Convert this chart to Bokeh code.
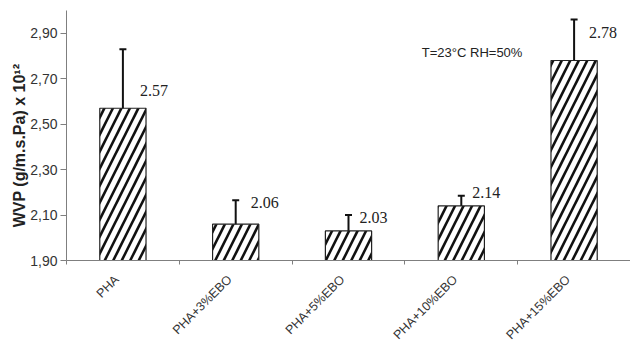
import math
from bokeh.plotting import figure
from bokeh.models import ColumnDataSource, FixedTicker, Range1d, Whisker, TeeHead
from bokeh.embed import file_html
from bokeh.resources import INLINE
from bokeh.core.properties import value

# ---- data ----
categories = ["PHA", "PHA+3%EBO", "PHA+5%EBO", "PHA+10%EBO", "PHA+15%EBO"]
wvp = [2.57, 2.06, 2.03, 2.14, 2.78]
wvp_err = [0.26, 0.105, 0.07, 0.045, 0.18]
value_labels = ["2.57", "2.06", "2.03", "2.14", "2.78"]
y_ticks = [1.90, 2.10, 2.30, 2.50, 2.70, 2.90]
y_tick_labels = ["1,90", "2,10", "2,30", "2,50", "2,70", "2,90"]
y_title = "WVP (g/m.s.Pa) x 10¹²"
note = "T=23°C RH=50%"

# ---- style / placement ----
label_dx = [17, 15, 11, 11, 15]        # px right of bar centre
label_dy = [-17.5, -21.5, -13.5, -13, -28.5]  # px relative to bar top (negative = up)

xs = [i + 0.5 for i in range(len(categories))]
src = ColumnDataSource(dict(
    x=xs, top=wvp,
    upper=[v + e for v, e in zip(wvp, wvp_err)],
    lower=[v - e for v, e in zip(wvp, wvp_err)],
    lab=value_labels, dx=label_dx, dy=label_dy,
))
cat_src = ColumnDataSource(dict(x=xs, y=[1.9] * len(xs), name=categories))

p = figure(width=630, height=341, output_backend="svg", toolbar_location=None,
           x_range=Range1d(0, len(categories)), y_range=Range1d(1.9, 3.0),
           min_border_left=66, min_border_right=0, min_border_top=10, min_border_bottom=81)
p.outline_line_color = None
p.grid.grid_line_color = None
p.background_fill_color = "white"

p.vbar(x="x", top="top", bottom=1.9, width=0.41, source=src,
       fill_color="white", line_color="#222222", line_width=1.2,
       hatch_pattern="right_diagonal_line", hatch_color="#111111",
       hatch_weight=2.6, hatch_scale=17)

w = Whisker(base="x", upper="upper", lower="lower", source=src,
            line_color="#111111", line_width=2,
            upper_head=TeeHead(size=7, line_color="#111111", line_width=2),
            lower_head=TeeHead(size=7, line_color="#111111", line_width=2))
p.add_layout(w)

p.text(x="x", y="top", text="lab", source=src, x_offset="dx", y_offset="dy",
       text_font=value("Liberation Serif"), text_font_size="16px",
       text_color="#222222", text_align="left", text_baseline="middle")

p.text(x=[3.15], y=[2.816], text=[note],
       text_font=value("Liberation Sans"), text_font_size="13px",
       text_color="#222222", text_align="left", text_baseline="middle")

# category labels, rotated 45 degrees below the axis
p.text(x="x", y="y", text="name", source=cat_src, angle=math.pi / 4,
       x_offset=-6, y_offset=17, level="overlay",
       text_font=value("Liberation Sans"), text_font_size="12.5px",
       text_color="#333333", text_align="right", text_baseline="middle")

# y axis title, drawn as rotated text left of the tick labels
p.text(x=[0], y=[2.406], text=[y_title], angle=math.pi / 2,
       x_offset=-47, level="overlay",
       text_font=value("Liberation Sans"), text_font_style="bold",
       text_font_size="16px", text_color="#222222",
       text_align="center", text_baseline="middle")

# y axis
ya = p.yaxis[0]
ya.ticker = FixedTicker(ticks=y_ticks)
ya.major_label_overrides = {t: l for t, l in zip(y_ticks, y_tick_labels)}
ya.minor_tick_line_color = None
ya.major_tick_out = 6
ya.major_tick_in = 0
ya.axis_line_color = "#7f7f7f"
ya.major_tick_line_color = "#7f7f7f"
ya.major_label_text_font = "Liberation Sans"
ya.major_label_text_font_size = "14px"
ya.major_label_text_color = "#333333"
ya.major_label_standoff = 3

# x axis: ticks at category boundaries, labels drawn above
xa = p.xaxis[0]
xa.ticker = FixedTicker(ticks=[], minor_ticks=list(range(len(categories) + 1)))
xa.minor_tick_out = 4
xa.minor_tick_in = 0
xa.minor_tick_line_color = "#7f7f7f"
xa.axis_line_color = "#7f7f7f"

open("out.html", "w").write(file_html(p, INLINE))
